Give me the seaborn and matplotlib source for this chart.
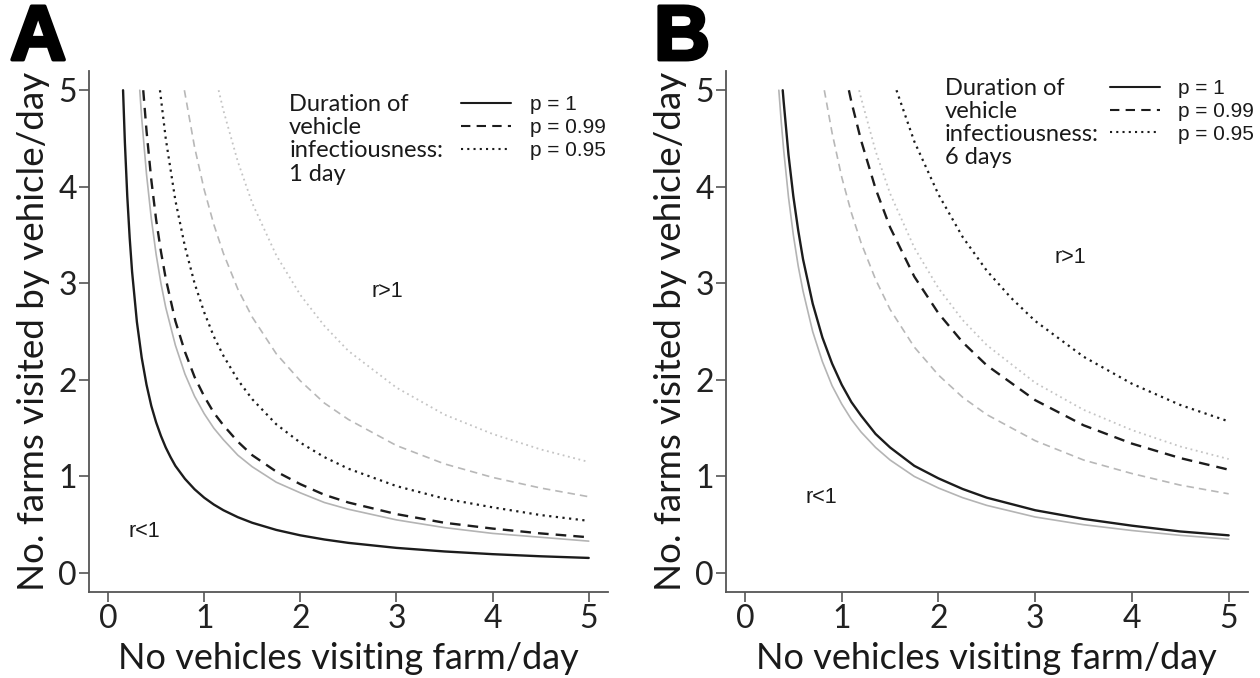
import matplotlib
matplotlib.use("Agg")
import matplotlib.pyplot as plt
import matplotlib.patheffects as pe
from matplotlib.lines import Line2D
import seaborn as sns
import pandas as pd

sns.set_theme(style="white")
plt.rcParams["font.family"] = ["Lato", "DejaVu Sans"]

# Threshold curves (r = 1) for each detection probability p.
# Black curves: scenario of the panel; grey curves: comparison scenario.

# Panel A: 1 day of vehicle infectiousness
a_p1_x = [0.156, 0.175, 0.2, 0.225, 0.25, 0.3, 0.35, 0.4, 0.45, 0.5, 0.55, 0.6, 0.65, 0.7, 0.8, 0.9, 1.0, 1.1, 1.2, 1.35, 1.5, 1.75, 2.0, 2.25, 2.5, 3.0, 3.5, 4.0, 4.5, 5.0]
a_p1_y = [5.0, 4.46, 3.90, 3.47, 3.12, 2.60, 2.23, 1.95, 1.73, 1.56, 1.42, 1.30, 1.20, 1.11, 0.975, 0.867, 0.78, 0.709, 0.65, 0.578, 0.52, 0.446, 0.39, 0.347, 0.312, 0.26, 0.223, 0.195, 0.173, 0.156]

a_grey_p1_x = [0.33, 0.35, 0.4, 0.45, 0.5, 0.55, 0.6, 0.7, 0.8, 0.9, 1.0, 1.1, 1.2, 1.35, 1.5, 1.75, 2.0, 2.25, 2.5, 3.0, 3.5, 4.0, 4.5, 5.0]
a_grey_p1_y = [5.0, 4.71, 4.13, 3.67, 3.30, 3.00, 2.75, 2.36, 2.06, 1.83, 1.65, 1.50, 1.38, 1.22, 1.10, 0.94, 0.83, 0.73, 0.66, 0.55, 0.47, 0.41, 0.37, 0.33]

a_p099_x = [0.366, 0.4, 0.45, 0.5, 0.55, 0.6, 0.7, 0.8, 0.9, 1.0, 1.1, 1.2, 1.35, 1.5, 1.75, 2.0, 2.25, 2.5, 3.0, 3.5, 4.0, 4.5, 5.0]
a_p099_y = [5.0, 4.58, 4.07, 3.66, 3.33, 3.05, 2.61, 2.29, 2.03, 1.83, 1.66, 1.53, 1.36, 1.22, 1.05, 0.92, 0.81, 0.73, 0.61, 0.52, 0.46, 0.41, 0.37]

a_p095_x = [0.54, 0.6, 0.7, 0.8, 0.9, 1.0, 1.1, 1.2, 1.35, 1.5, 1.75, 2.0, 2.25, 2.5, 3.0, 3.5, 4.0, 4.5, 5.0]
a_p095_y = [5.0, 4.50, 3.86, 3.38, 3.00, 2.70, 2.45, 2.25, 2.00, 1.80, 1.54, 1.35, 1.20, 1.08, 0.90, 0.77, 0.68, 0.60, 0.54]

a_grey_p099_x = [0.794, 0.9, 1.0, 1.1, 1.2, 1.35, 1.5, 1.75, 2.0, 2.25, 2.5, 3.0, 3.5, 4.0, 4.5, 5.0]
a_grey_p099_y = [5.0, 4.41, 3.97, 3.61, 3.31, 2.94, 2.65, 2.27, 1.99, 1.76, 1.59, 1.32, 1.13, 0.99, 0.88, 0.79]

a_grey_p095_x = [1.15, 1.2, 1.35, 1.5, 1.75, 2.0, 2.25, 2.5, 3.0, 3.5, 4.0, 4.5, 5.0]
a_grey_p095_y = [5.0, 4.79, 4.26, 3.83, 3.29, 2.88, 2.56, 2.30, 1.92, 1.64, 1.44, 1.28, 1.15]

# Panel B: 6 days of vehicle infectiousness
b_p1_x = [0.39, 0.4, 0.45, 0.5, 0.55, 0.6, 0.7, 0.8, 0.9, 1.0, 1.1, 1.2, 1.35, 1.5, 1.75, 2.0, 2.25, 2.5, 3.0, 3.5, 4.0, 4.5, 5.0]
b_p1_y = [5.0, 4.88, 4.33, 3.90, 3.55, 3.25, 2.79, 2.44, 2.17, 1.95, 1.77, 1.63, 1.44, 1.30, 1.11, 0.98, 0.87, 0.78, 0.65, 0.56, 0.49, 0.43, 0.39]

b_grey_p1_x = [0.35, 0.375, 0.4, 0.45, 0.5, 0.55, 0.6, 0.7, 0.8, 0.9, 1.0, 1.1, 1.2, 1.35, 1.5, 1.75, 2.0, 2.25, 2.5, 3.0, 3.5, 4.0, 4.5, 5.0]
b_grey_p1_y = [5.0, 4.67, 4.38, 3.89, 3.50, 3.18, 2.92, 2.50, 2.19, 1.94, 1.75, 1.59, 1.46, 1.30, 1.17, 1.00, 0.88, 0.78, 0.70, 0.58, 0.50, 0.44, 0.39, 0.35]

b_grey_p099_x = [0.82, 0.9, 1.0, 1.1, 1.2, 1.35, 1.5, 1.75, 2.0, 2.25, 2.5, 3.0, 3.5, 4.0, 4.5, 5.0]
b_grey_p099_y = [5.0, 4.56, 4.10, 3.73, 3.42, 3.04, 2.73, 2.34, 2.05, 1.82, 1.64, 1.37, 1.17, 1.03, 0.91, 0.82]

b_p099_x = [1.074, 1.1, 1.2, 1.35, 1.5, 1.75, 2.0, 2.25, 2.5, 3.0, 3.5, 4.0, 4.5, 5.0]
b_p099_y = [5.0, 4.88, 4.48, 3.98, 3.58, 3.07, 2.69, 2.39, 2.15, 1.79, 1.53, 1.34, 1.19, 1.07]

b_grey_p095_x = [1.18, 1.2, 1.35, 1.5, 1.75, 2.0, 2.25, 2.5, 3.0, 3.5, 4.0, 4.5, 5.0]
b_grey_p095_y = [5.0, 4.92, 4.37, 3.93, 3.37, 2.95, 2.62, 2.36, 1.97, 1.69, 1.48, 1.31, 1.18]

b_p095_x = [1.566, 1.75, 2.0, 2.25, 2.5, 2.75, 3.0, 3.5, 4.0, 4.5, 5.0]
b_p095_y = [5.0, 4.47, 3.92, 3.48, 3.13, 2.85, 2.61, 2.24, 1.96, 1.74, 1.57]

tick_values = [0, 1, 2, 3, 4, 5]
legend_labels = ["p = 1", "p = 0.99", "p = 0.95"]
panel_letters = ["A", "B"]
durations = ["1 day", "6 days"]
x_label = "No vehicles visiting farm/day"
y_label = "No. farms visited by vehicle/day"

BLACK = "#1c1c1c"
GREY_SOLID = "#b4b4b4"
GREY_DASH = "#b8b8b8"
GREY_DOT = "#c4c4c4"
SOLID = "-"
DASH = (0, (4.5, 3))
DOT = (0, (1.0, 2.0))

panel_a = [
    (a_grey_p1_x, a_grey_p1_y, GREY_SOLID, SOLID, 1.2),
    (a_grey_p099_x, a_grey_p099_y, GREY_DASH, DASH, 1.2),
    (a_grey_p095_x, a_grey_p095_y, GREY_DOT, DOT, 1.3),
    (a_p1_x, a_p1_y, BLACK, SOLID, 1.7),
    (a_p099_x, a_p099_y, BLACK, DASH, 1.7),
    (a_p095_x, a_p095_y, BLACK, DOT, 1.6),
]
panel_b = [
    (b_grey_p1_x, b_grey_p1_y, GREY_SOLID, SOLID, 1.2),
    (b_grey_p099_x, b_grey_p099_y, GREY_DASH, DASH, 1.2),
    (b_grey_p095_x, b_grey_p095_y, GREY_DOT, DOT, 1.3),
    (b_p1_x, b_p1_y, BLACK, SOLID, 1.7),
    (b_p099_x, b_p099_y, BLACK, DASH, 1.7),
    (b_p095_x, b_p095_y, BLACK, DOT, 1.6),
]

fig = plt.figure(figsize=(12.6, 6.78), dpi=100)
ax_a = fig.add_axes([0.0705, 0.1264, 0.412, 0.769])
ax_b = fig.add_axes([0.5759, 0.1264, 0.4146, 0.769])

region_text = {
    "A": [(2.9, 2.92, "r>1"), (0.38, 0.43, "r<1")],
    "B": [(3.36, 3.27, "r>1"), (0.79, 0.78, "r<1")],
}
desc_pos = {"A": (0.386, 0.955), "B": (0.42, 0.986)}
leg_pos = {"A": (0.717, 0.953), "B": (0.735, 0.984)}

for ax, curves, letter, dur in zip([ax_a, ax_b], [panel_a, panel_b], panel_letters, durations):
    for xs, ys, col, ls, lw in curves:
        df = pd.DataFrame({"x": xs, "y": ys})
        sns.lineplot(data=df, x="x", y="y", ax=ax, color=col, linestyle=ls,
                     linewidth=lw, sort=False, estimator=None)

    ax.set_xlim(-0.2, 5.2)
    ax.set_ylim(-0.2, 5.2)
    ax.set_xticks(tick_values)
    ax.set_yticks(tick_values)
    ax.tick_params(axis="both", which="major", direction="out", length=7, width=1.2,
                   color="#555555", labelsize=23, labelcolor="#222222", pad=1.5,
                   bottom=True, left=True)
    for side in ["top", "right"]:
        ax.spines[side].set_visible(False)
    for side in ["left", "bottom"]:
        ax.spines[side].set_color("#555555")
        ax.spines[side].set_linewidth(1.3)
    ax.set_xlabel(x_label, fontsize=26, color="#1a1a1a", labelpad=6)
    ax.set_ylabel(y_label, fontsize=26.5, color="#1a1a1a", labelpad=6)

    for tx, ty, s in region_text[letter]:
        ax.text(tx, ty, s, fontsize=15.5, family=["Liberation Sans"], color="#1a1a1a",
                ha="center", va="center")

    dx, dy = desc_pos[letter]
    ax.text(dx, dy, "Duration of\nvehicle\ninfectiousness:\n" + dur, transform=ax.transAxes,
            fontsize=17, color="#1a1a1a", ha="left", va="top", linespacing=1.12)

    handles = [Line2D([], [], color=BLACK, linestyle=SOLID, linewidth=1.5),
               Line2D([], [], color=BLACK, linestyle=DASH, linewidth=1.5),
               Line2D([], [], color=BLACK, linestyle=DOT, linewidth=1.5)]
    lx, ly = leg_pos[letter]
    leg = ax.legend(handles, legend_labels, loc="upper left", bbox_to_anchor=(lx, ly),
                    frameon=False, handlelength=2.4, handletextpad=0.9,
                    labelspacing=0.18, borderpad=0, borderaxespad=0,
                    prop={"family": ["Liberation Sans"], "size": 15})
    for t in leg.get_texts():
        t.set_color("#1a1a1a")

    ax.set_facecolor("white")

for xpos, letter in [(0.008, "A"), (0.519, "B")]:
    fig.text(xpos, 0.996, letter, fontsize=56, fontweight="bold", family=["Liberation Sans"],
             color="black", ha="left", va="top",
             path_effects=[pe.withStroke(linewidth=2.5, foreground="black")])

fig.savefig("out.png", dpi=100, facecolor="white")
